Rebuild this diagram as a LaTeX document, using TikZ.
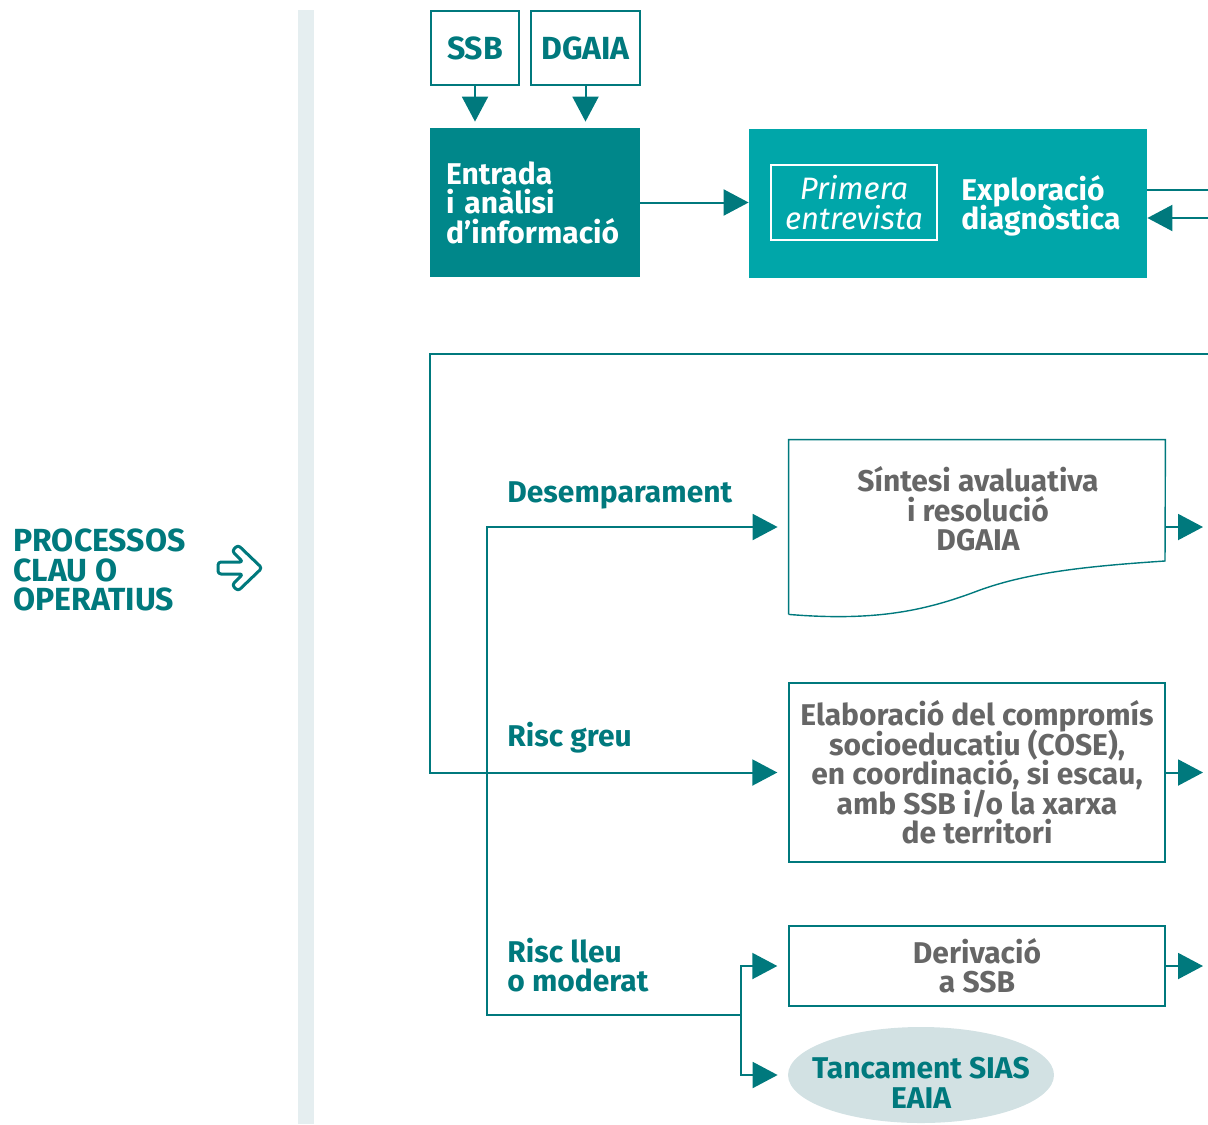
\documentclass[tikz,border=0pt]{standalone}
\usepackage{fontspec}
\setmainfont{Fira Sans}
\usetikzlibrary{arrows.meta,shapes.geometric}
\definecolor{tealdark}{HTML}{00878A}
\definecolor{tealmid}{HTML}{00A6A9}
\definecolor{tealline}{HTML}{00797D}
\definecolor{greytext}{HTML}{666666}
\definecolor{barfill}{HTML}{E5EEF0}
\definecolor{ovalfill}{HTML}{D2E1E3}
\newcommand{\tightlines}{\setlength{\lineskiplimit}{-8pt}}

\begin{document}
\begin{tikzpicture}[x=0.5pt,y=-0.5pt,
  font=\fontsize{15}{14.7}\selectfont\bfseries\tightlines,
  flow/.style={tealline,line width=1pt,-{Triangle[length=12.5pt,width=13pt]}},
  line/.style={tealline,line width=1pt},
  srcbox/.style={draw=tealline,line width=1pt,text=tealline,minimum height=37pt,inner sep=0pt,
    font=\fontsize{16}{16}\selectfont\bfseries},
  stepbox/.style={draw=tealline,line width=0.7pt,text=greytext,align=center,minimum width=188pt,inner sep=0pt},
  lbl/.style={text=tealline,align=left,anchor=west,inner sep=0pt}]

  \useasboundingbox (0,0) rectangle (1208,1124);
  \fill[barfill] (298,10) rectangle (314,1124);

  % left side
  \node[lbl,font=\fontsize{16}{14.7}\selectfont\bfseries\tightlines] (processos) at (13,570) {PROCESSOS\\CLAU O\\OPERATIUS};
  \draw[tealline,line width=1.5pt,rounded corners=1.5pt,line join=round]
    (218,562) -- (243,562) -- (232,551) -- (238,545) -- (262,568) -- (238,591)
    -- (232,585) -- (243,574) -- (218,574) -- cycle;

  % top row
  \node[srcbox,minimum width=44pt] (ssb) at (475,48) {SSB};
  \node[srcbox,minimum width=54.5pt] (dgaia) at (585.5,48) {DGAIA};
  \node[fill=tealdark,text=white,minimum height=74.5pt,text width=89pt,inner xsep=8pt,align=left] (entrada) at (535,202.5) {Entrada\\i anàlisi\\d’informació};
  \node[fill=tealmid,minimum width=199pt,minimum height=74.5pt] (exploracio) at (948,203.5) {};
  \node[draw=white,line width=0.9pt,text=white,font=\fontsize{15.5}{14.7}\selectfont\mdseries\itshape\tightlines,align=center,minimum width=83pt,minimum height=37.5pt,inner sep=0pt] (primera) at (854,202.5) {Primera\\entrevista};
  \node[lbl,text=white] (diag) at (961,206) {Exploració\\diagnòstica};

  \draw[flow,shorten >=3pt] (ssb.south) -- (ssb.south |- entrada.north);
  \draw[flow,shorten >=3pt] (dgaia.south) -- (dgaia.south |- entrada.north);
  \draw[flow] (entrada.east) -- (entrada.east -| exploracio.west);

  \coordinate (outA) at (1208,190);
  \coordinate (inA) at (1208,218);
  \coordinate (loopin) at (1208,354);
  \coordinate (rim) at (1203,0);
  \draw[line] (exploracio.east |- outA) -- (outA);
  \draw[flow] (inA) -- (inA -| exploracio.east);

  % outcomes
  \node[minimum width=188pt,minimum height=87pt,inner sep=0pt] (sintesibox) at (977,527) {};
  \draw[tealline,line width=0.7pt] (sintesibox.south west) -- (sintesibox.north west) -- (sintesibox.north east)
    -- (1165,561) .. controls (1090,566) and (1030,572) .. (980,590)
    .. controls (930,609) and (880,622) .. (sintesibox.south west);
  \node[text=greytext,align=center] (sintesi) at (978,509) {Síntesi avaluativa\\i resolució\\DGAIA};
  \node[stepbox,minimum height=89.5pt] (elaboracio) at (977,772.5) {Elaboració del compromís\\socioeducatiu (COSE),\\en coordinació, si escau,\\amb SSB i/o la xarxa\\de territori};
  \node[stepbox,minimum height=40pt] (derivacio) at (977,966) {Derivació\\a SSB};
  \node[ellipse,fill=ovalfill,minimum width=133pt,minimum height=48pt,inner sep=0pt] (tancament) at (921,1075) {};
  \node[text=tealline,align=center] (tancamenttxt) at ([yshift=-4pt]tancament.center) {Tancament SIAS\\EAIA};

  \node[lbl] (desemp) at (507,495) {Desemparament};
  \node[lbl] (riscgreu) at (507,738) {Risc greu};
  \node[lbl] (risclleu) at (507,965) {Risc lleu\\o moderat};

  % branches
  \coordinate (split) at (741,1015);
  \coordinate (branch) at (487,1015);
  \draw[flow,shorten >=5.5pt] (loopin) -- (loopin -| entrada.west) |- (elaboracio.west);
  \draw[flow,shorten >=5.5pt] (split) -- (branch) |- (sintesibox.west);
  \draw[flow,shorten >=5.5pt] (split) |- (derivacio.west);
  \draw[flow,shorten >=5pt] (split) |- (tancament.west);

  \draw[flow] (sintesibox.east) -- (sintesibox.east -| rim);
  \draw[flow] (elaboracio.east) -- (elaboracio.east -| rim);
  \draw[flow] (derivacio.east) -- (derivacio.east -| rim);
\end{tikzpicture}
\end{document}
